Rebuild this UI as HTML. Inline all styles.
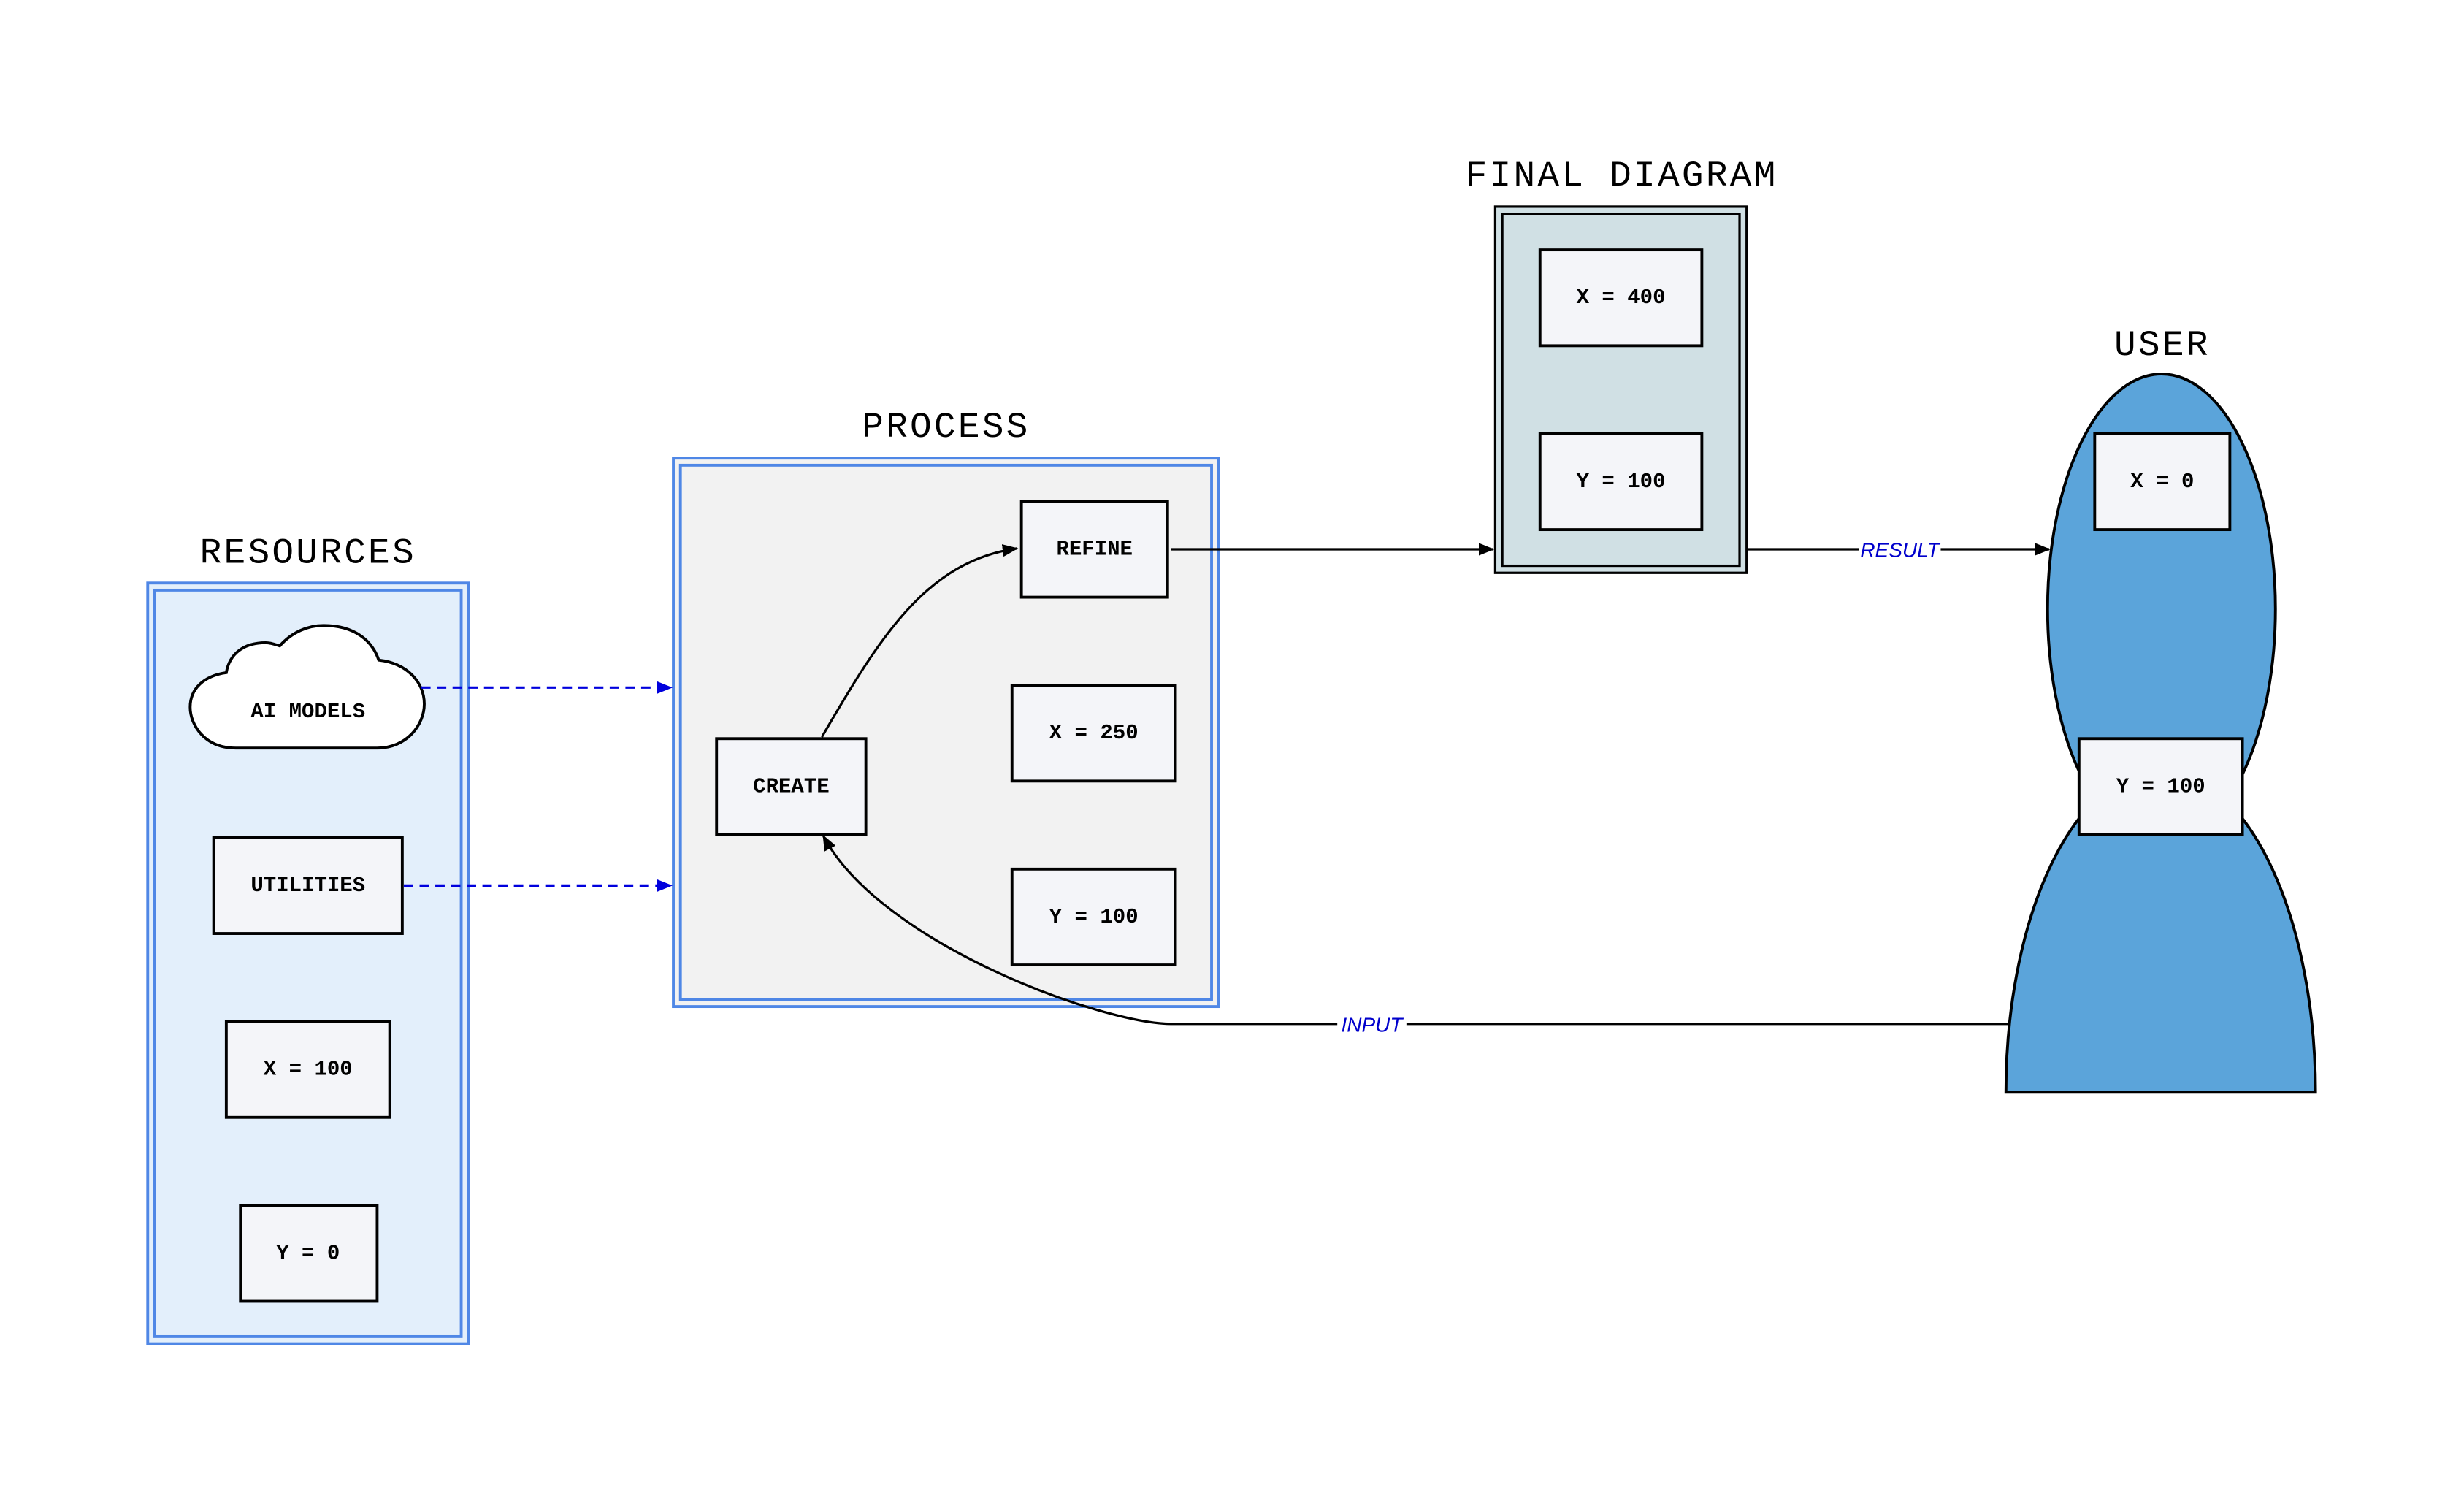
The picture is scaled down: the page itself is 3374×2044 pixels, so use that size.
<!DOCTYPE html>
<html><head><meta charset="utf-8"><style>
html,body{margin:0;padding:0;background:#fff;width:3374px;height:2044px;overflow:hidden}
svg{display:block}
.lbl{font-family:"Liberation Mono",monospace;font-weight:bold;font-size:13.5px;fill:#000;text-anchor:middle;dominant-baseline:central}
.ttl{font-family:"Liberation Mono",monospace;font-size:23px;fill:#000;text-anchor:middle;letter-spacing:1.5px}
.box{fill:#f4f5f9;stroke:#000;stroke-width:1.8}
.el{font-family:"Liberation Sans",sans-serif;font-style:italic;font-size:13px;fill:#0000cc;text-anchor:middle;dominant-baseline:central}
</style></head><body>
<svg width="3374" height="2044" viewBox="0 0 1568 950" preserveAspectRatio="none" xmlns="http://www.w3.org/2000/svg">
<defs>
<marker id="ab" markerWidth="10" markerHeight="8" refX="9" refY="4" orient="auto" markerUnits="userSpaceOnUse"><path d="M0,0 L10,4 L0,8 z" fill="#000"/></marker>
<marker id="ablue" markerWidth="10" markerHeight="8" refX="9" refY="4" orient="auto" markerUnits="userSpaceOnUse"><path d="M0,0 L10,4 L0,8 z" fill="#0000dd"/></marker>
</defs>
<rect width="1568" height="950" fill="#fff"/>

<!-- RESOURCES -->
<text class="ttl" x="196" y="358">RESOURCES</text>
<rect x="94" y="371" width="204" height="484" fill="#e3effb" stroke="#4f87e6" stroke-width="1.8"/>
<rect x="98.5" y="375.5" width="195" height="475" fill="none" stroke="#4f87e6" stroke-width="1.8"/>
<path d="M150,476 C130,476 121,461 121,450 C121,438 130,430 144,428 C146,416 155,409 169,409 C172,409 175,410 178,411 C186,402 196,398 206,398 C226,398 237,408 241,420 C259,422 270,434 270,448 C270,461 259,476 240,476 Z" fill="#fff" stroke="#000" stroke-width="1.8"/>
<text class="lbl" x="196" y="453">AI MODELS</text>
<rect class="box" x="136" y="533" width="120" height="61"/>
<text class="lbl" x="196" y="563.5">UTILITIES</text>
<rect class="box" x="144" y="650" width="104" height="61"/>
<text class="lbl" x="196" y="680.5">X = 100</text>
<rect class="box" x="153" y="767" width="87" height="61"/>
<text class="lbl" x="196" y="797.5">Y = 0</text>

<!-- PROCESS -->
<text class="ttl" x="602" y="278">PROCESS</text>
<rect x="428.5" y="291.5" width="347" height="349" fill="#f2f2f2" stroke="#4f87e6" stroke-width="1.8"/>
<rect x="433" y="296" width="338" height="340" fill="none" stroke="#4f87e6" stroke-width="1.8"/>
<rect class="box" x="650" y="319" width="93" height="61"/>
<text class="lbl" x="696.5" y="349.5">REFINE</text>
<rect class="box" x="456" y="470" width="95" height="61"/>
<text class="lbl" x="503.5" y="500.5">CREATE</text>
<rect class="box" x="644" y="436" width="104" height="61"/>
<text class="lbl" x="696" y="466.5">X = 250</text>
<rect class="box" x="644" y="553" width="104" height="61"/>
<text class="lbl" x="696" y="583.5">Y = 100</text>

<!-- FINAL DIAGRAM -->
<text class="ttl" x="1032" y="118">FINAL DIAGRAM</text>
<rect x="951.5" y="131.5" width="160" height="233" fill="#d0e0e4" stroke="#000" stroke-width="1.5"/>
<rect x="956" y="136" width="151" height="224" fill="#d0e0e4" stroke="#000" stroke-width="1.5"/>
<rect class="box" x="980" y="159" width="103" height="61"/>
<text class="lbl" x="1031.5" y="189.5">X = 400</text>
<rect class="box" x="980" y="276" width="103" height="61"/>
<text class="lbl" x="1031.5" y="306.5">Y = 100</text>

<!-- USER -->
<text class="ttl" x="1376" y="226">USER</text>
<ellipse cx="1375.5" cy="387.5" rx="72.5" ry="149.5" fill="#5ba4da" stroke="#000" stroke-width="1.8"/>
<path d="M1276.5,695 A98.5,205 0 0 1 1473.5,695 Z" fill="#5ba4da" stroke="#000" stroke-width="1.8"/>
<rect class="box" x="1333" y="276" width="86" height="61"/>
<text class="lbl" x="1376" y="306.5">X = 0</text>
<rect class="box" x="1323" y="470" width="104" height="61"/>
<text class="lbl" x="1375" y="500.5">Y = 100</text>

<!-- connectors -->
<line x1="268" y1="437.5" x2="427" y2="437.5" stroke="#0000dd" stroke-width="1.5" stroke-dasharray="6,4" marker-end="url(#ablue)"/>
<line x1="257" y1="563.5" x2="427" y2="563.5" stroke="#0000dd" stroke-width="1.5" stroke-dasharray="6,4" marker-end="url(#ablue)"/>
<line x1="745" y1="349.5" x2="950" y2="349.5" stroke="#000" stroke-width="1.5" marker-end="url(#ab)"/>
<line x1="1112" y1="349.5" x2="1304" y2="349.5" stroke="#000" stroke-width="1.5" marker-end="url(#ab)"/>
<rect x="1183" y="342" width="52" height="15" fill="#fff"/>
<text class="el" x="1209" y="350">RESULT</text>
<path d="M523,469 C560,405 590,357 647,349" fill="none" stroke="#000" stroke-width="1.5" marker-end="url(#ab)"/>
<path d="M1278,651.5 L745,651.5 C700,651 560,600 524,532" fill="none" stroke="#000" stroke-width="1.5" marker-end="url(#ab)"/>
<rect x="851" y="644" width="44" height="15" fill="#fff"/>
<text class="el" x="873" y="652">INPUT</text>
</svg>
</body></html>
